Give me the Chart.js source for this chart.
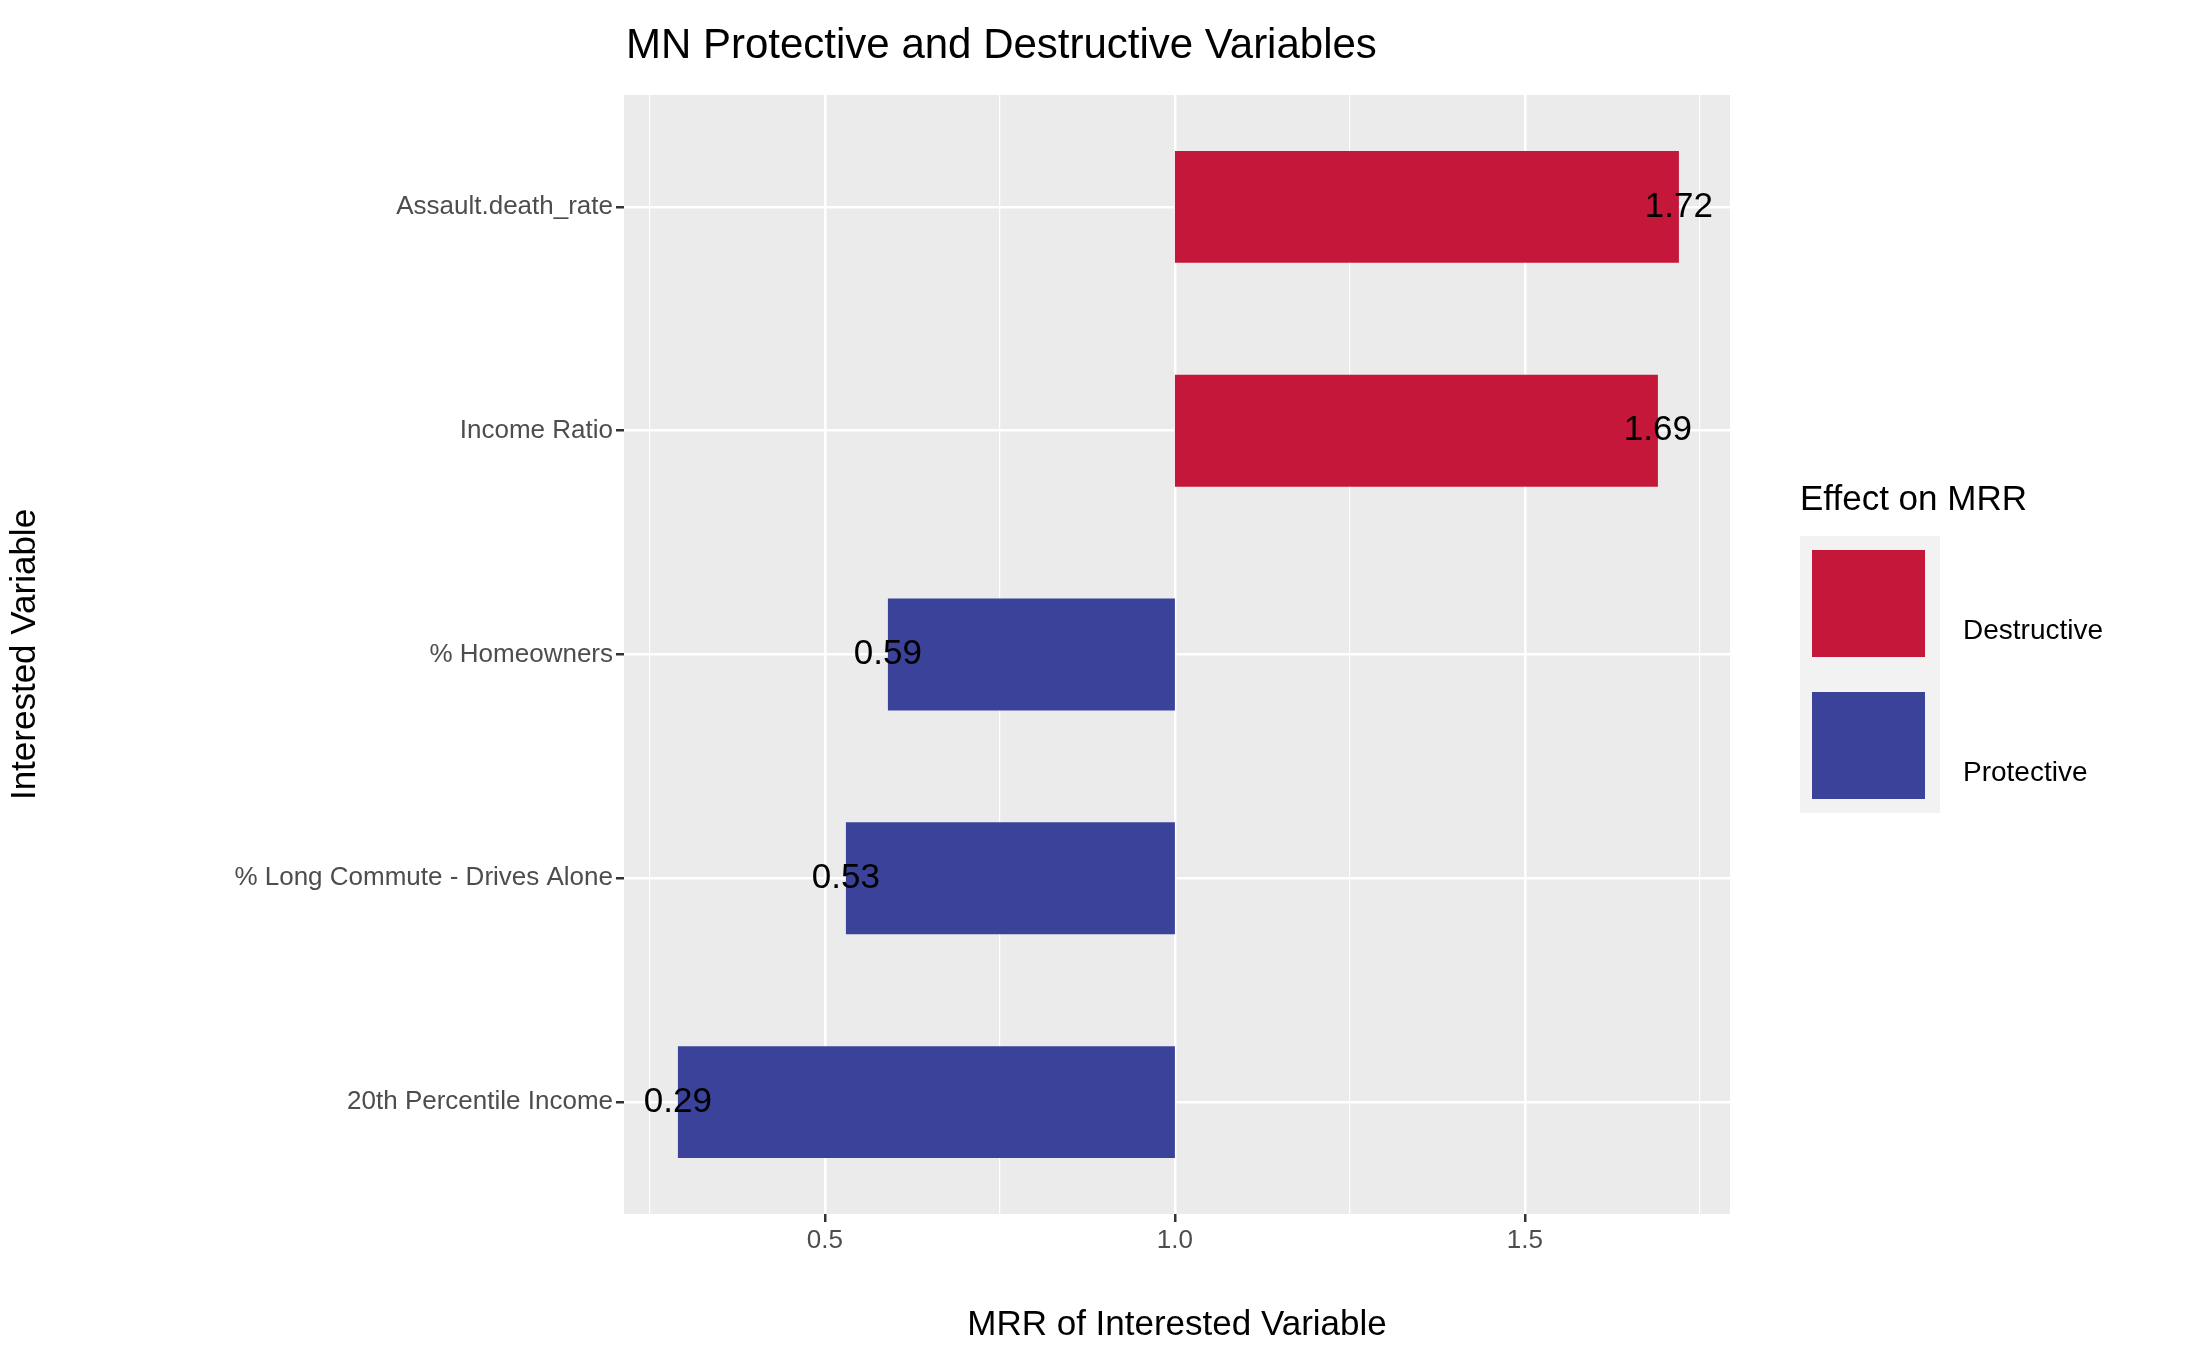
<!DOCTYPE html>
<html lang="en">
<head>
  <meta charset="UTF-8">
  <title>MN Protective and Destructive Variables</title>
  <script src="https://cdn.jsdelivr.net/npm/chart.js"></script>
  <style>
    body { margin: 0; background: #fff; font-family: "Liberation Sans", Arial, sans-serif; }
    #wrap { position: relative; width: 2187px; height: 1350px; }
    #title { position: absolute; left: 626px; top: 20px; font-size: 42px; color: #000; }
    #legend { position: absolute; left: 1800px; top: 478px; }
    #legend .head { font-size: 35px; margin-bottom: 18px; }
    #legend .box { background: #f2f2f2; padding: 14px 12px; width: 116px; }
    #legend .key { width: 113px; height: 107px; margin: 0 0 35px 0; }
    #legend .key:last-child { margin-bottom: 0; }
    .lab { position: absolute; left: 163px; font-size: 28px; }
  </style>
</head>
<body>
<div id="wrap">
  <canvas id="chart" width="2187" height="1350"></canvas>
  <div id="title">MN Protective and Destructive Variables</div>
  <div id="legend">
    <div class="head">Effect on MRR</div>
    <div class="box">
      <div class="key" style="background:#C4173A"></div>
      <div class="key" style="background:#3A4399"></div>
    </div>
    <div class="lab" style="top:136px">Destructive</div>
    <div class="lab" style="top:278px">Protective</div>
  </div>
</div>
<script>
  // categories, top to bottom
  const variables = ['Assault.death_rate', 'Income Ratio', '% Homeowners', '% Long Commute - Drives Alone', '20th Percentile Income'];
  const mrr = [1.72, 1.69, 0.59, 0.53, 0.29];
  const effect = ['Destructive', 'Destructive', 'Protective', 'Protective', 'Protective'];
  const xTicks = [0.25, 0.5, 0.75, 1.0, 1.25, 1.5, 1.75];

  const colors = { Destructive: 'rgba(196,23,58,1)', Protective: 'rgba(58,67,153,1)' };
  const isMajor = v => Math.abs(v * 2 - Math.round(v * 2)) < 1e-6;
  const FONT = '"Liberation Sans", Arial, sans-serif';

  const panelBg = {
    id: 'panelBg',
    beforeDraw(chart) {
      const a = chart.chartArea, ctx = chart.ctx;
      ctx.save();
      ctx.fillStyle = '#EBEBEB';
      ctx.fillRect(a.left, a.top, a.right - a.left, a.bottom - a.top);
      ctx.restore();
    }
  };

  const valueLabels = {
    id: 'valueLabels',
    afterDatasetsDraw(chart) {
      const ctx = chart.ctx, xs = chart.scales.x, ys = chart.scales.y;
      ctx.save();
      ctx.font = '35px ' + FONT;
      ctx.fillStyle = '#000';
      ctx.textAlign = 'center';
      ctx.textBaseline = 'middle';
      mrr.forEach((v, i) => {
        ctx.fillText(v.toFixed(2), xs.getPixelForValue(v), ys.getPixelForValue(i));
      });
      ctx.restore();
    }
  };

  new Chart(document.getElementById('chart'), {
    type: 'bar',
    data: {
      labels: variables,
      datasets: [{
        data: mrr.map(v => [1, v]),
        backgroundColor: effect.map(e => colors[e]),
        barPercentage: 0.5,
        categoryPercentage: 1.0
      }]
    },
    options: {
      indexAxis: 'y',
      responsive: false,
      animation: false,
      layout: { padding: { top: 95, right: 457, bottom: 0, left: 0 } },
      plugins: { legend: { display: false }, tooltip: { enabled: false } },
      scales: {
        x: {
          min: 0.213, max: 1.793,
          afterBuildTicks: s => { s.ticks = xTicks.map(v => ({ value: v })); },
          afterFit: s => { s.height = 136; },
          grid: {
            color: '#fff',
            lineWidth: c => (c.tick && isMajor(c.tick.value)) ? 2.5 : 1.2,
            tickColor: c => (c.tick && isMajor(c.tick.value)) ? '#333' : 'rgba(0,0,0,0)',
            tickLength: 8
          },
          border: { display: false },
          ticks: {
            color: '#4d4d4d',
            font: { size: 26, family: FONT },
            callback: v => isMajor(v) ? v.toFixed(1) : ''
          },
          title: { display: true, text: 'MRR of Interested Variable', color: '#000',
                   font: { size: 35, family: FONT }, padding: { top: 10 } }
        },
        y: {
          afterFit: s => { s.width = 624; },
          grid: { color: '#fff', lineWidth: 2.5, tickColor: '#333', tickLength: 8, offset: false },
          border: { display: false },
          ticks: { color: '#4d4d4d', font: { size: 26, family: FONT } },
          title: { display: true, text: 'Interested Variable', color: '#000',
                   font: { size: 35, family: FONT } }
        }
      }
    },
    plugins: [panelBg, valueLabels]
  });
</script>
</body>
</html>
